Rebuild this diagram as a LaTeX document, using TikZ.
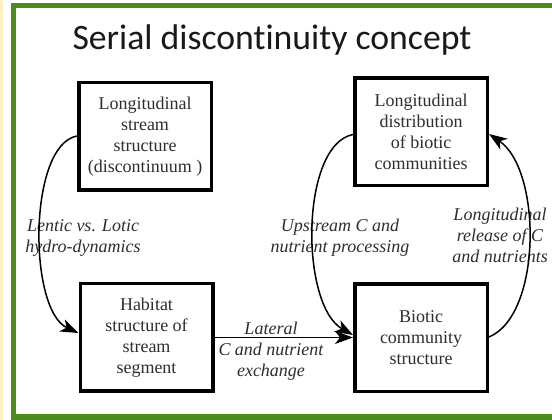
\documentclass[tikz,border=0pt]{standalone}
\usepackage{fontspec}
\setmainfont{Liberation Serif}
\newfontfamily\titlefont[Ligatures=NoCommon]{Carlito}
\usetikzlibrary{arrows.meta}
\definecolor{framegreen}{HTML}{4E8B1F}
\definecolor{inkgray}{HTML}{2E2E2E}
\definecolor{edgecream}{HTML}{FFEFC2}
\begin{document}
\begin{tikzpicture}[x=1pt,y=1pt,
  box/.style={draw=black, line width=3.5pt, minimum width=132.5pt, minimum height=107.5pt,
    align=center, inner sep=0pt, text=inkgray, font=\fontsize{18}{21}\selectfont},
  lbl/.style={align=center, text=inkgray, font=\fontsize{18}{21}\selectfont\itshape,
    inner sep=0pt, anchor=base},
  link/.style={line width=1.5pt, -{Stealth[length=18pt,width=13pt,inset=5pt]}},
]
\useasboundingbox (0,0) rectangle (552,420);
% page background and frame
\fill[white] (0,0) rectangle (552,420);
\fill[edgecream] (0,0) rectangle (2.5,420);
\draw[framegreen, line width=5.5pt] (13.5,3) rectangle (570,414.5);

% title
\node[font=\titlefont\fontsize{35.7}{40}\selectfont, anchor=base, text=black!90] (title)
  at (272,370) {Serial discontinuity concept};

% boxes
\node[box] (A) at (145,283.5) {Longitudinal\\stream\\structure\\(discontinuum )};
\node[box] (B) at (421,288) {Longitudinal\\distribution\\of biotic\\communities};
\node[box] (C) at (146.5,82.5) {Habitat\\structure of\\stream\\segment};
\node[box] (D) at (421,82) {Biotic\\community\\structure};

% labels (base anchor sits on the last line)
\node[lbl] (hydro) at (83,167) {Lentic vs. Lotic\\hydro-dynamics};
\node[lbl] (upstream) at (340,167) {Upstream C and\\nutrient processing};
\node[lbl] (release) at (500,157) {Longitudinal\\release of C\\and nutrients};
\node[lbl] (lateral) at (271,43) {Lateral\\C and nutrient\\exchange};

% connectors
\draw[link] ([yshift=0.5pt]A.west) .. controls (28,275) and (28,110) .. ([yshift=4.5pt]C.west);
\draw[link] (C.east) -- (C.east -| D.west);
\draw[link] ([yshift=-2.5pt]B.west) .. controls (300,275) and (300,115) .. ([yshift=3pt]D.west);
\draw[link] ([yshift=1pt]D.east) .. controls (542,105) and (542,250) .. ([yshift=-2pt]B.east);
\end{tikzpicture}
\end{document}
